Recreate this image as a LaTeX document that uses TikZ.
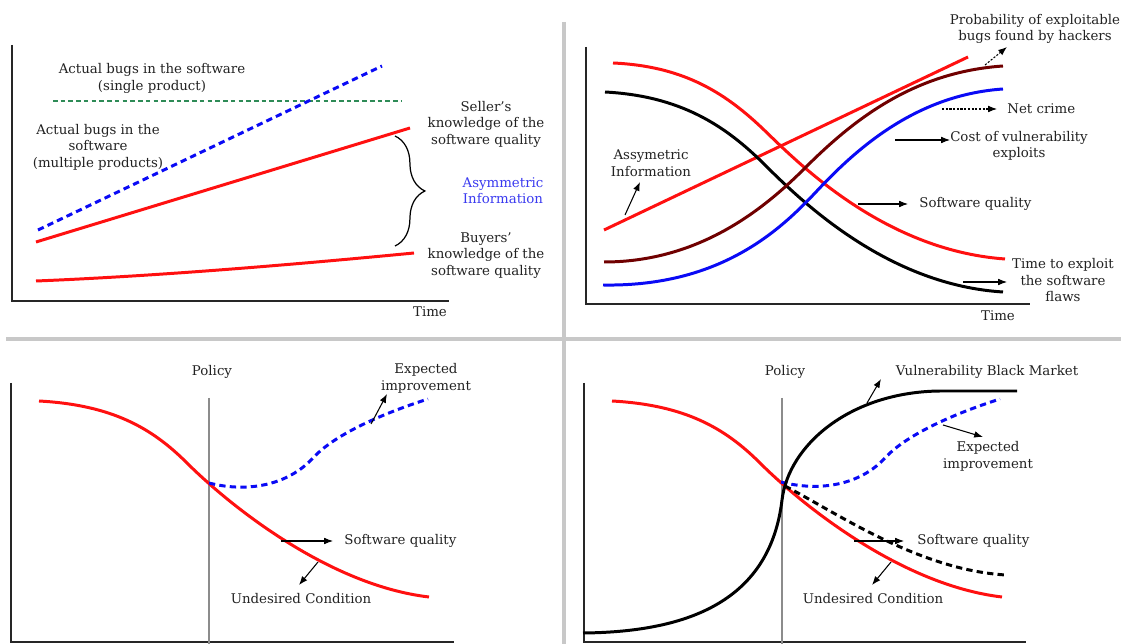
\documentclass[tikz,border=0pt]{standalone}
\usepackage{fontspec}
\setmainfont{DejaVu Serif}
\usetikzlibrary{arrows.meta,decorations.pathreplacing}
\definecolor{sepgray}{HTML}{C8C8C8}
\definecolor{polgray}{HTML}{8C8C8C}
\definecolor{txt}{HTML}{222222}
\definecolor{curvered}{HTML}{FF1010}
\definecolor{curveblue}{HTML}{0A0AF5}
\definecolor{maroon}{HTML}{700000}
\definecolor{dkgreen}{HTML}{2E8B57}
\definecolor{infoblue}{HTML}{3A3AF0}
\begin{document}
\begin{tikzpicture}[x=0.02cm,y=-0.02cm,
  lbl/.style={font=\fontsize{7.6}{9.4}\selectfont, align=center, inner sep=0pt, text=txt},
  axis/.style={line width=1.1pt, draw=black!85},
  divider/.style={line width=1.8pt, draw=sepgray},
  policyline/.style={line width=1.4pt, draw=polgray},
  curve/.style={line width=1.7pt},
  dashcurve/.style={line width=1.7pt, dash pattern=on 3.6pt off 2.4pt},
  arr/.style={line width=0.6pt, draw=black, -{Latex[length=5pt,width=3.8pt]}},
  dotarr/.style={line width=0.6pt, draw=black, dash pattern=on 1.2pt off 0.9pt, -{Latex[length=5pt,width=3.8pt]}}]
\useasboundingbox[fill=white] (0,0) rectangle (1128,644);

% ---------- panel dividers ----------
\coordinate (vtop) at (564,22);
\coordinate (vbot) at (564,644);
\coordinate (hl) at (6,339);
\coordinate (hr) at (1121,339);
\draw[divider] (vtop) -- (vbot);
\draw[divider] (hl) -- (hr);

% ================= panel 1: bugs and knowledge =================
\draw[axis] (12,45) -- (12,301) -- (449,301);
\node[lbl] (time1) at (430,312) {Time};

\draw[dkgreen, line width=1.5pt, dash pattern=on 2.6pt off 1.8pt] (53,101) -- (401,101);
\draw[curveblue, dashcurve] (38,230) -- (382,66);
\draw[curvered, curve] (36,242) -- (410,128);
\draw[curvered, curve] (36,281) .. controls (160,276) and (300,264) .. (414,253);
\draw[line width=0.7pt, decorate, decoration={brace, amplitude=17pt}] (395,136) -- (395,246);

\node[lbl] (single) at (152,78.5) {Actual bugs in the software\\(single product)};
\node[lbl] (multi) at (98,147) {Actual bugs in the\\software\\(multiple products)};
\node[lbl] (seller) at (486,124) {Seller's\\knowledge of the\\software quality};
\node[lbl, text=infoblue] (asym1) at (503,190.5) {Asymmetric\\Information};
\node[lbl] (buyers) at (486,255.5) {Buyers'\\knowledge of the\\software quality};

% ================= panel 2: crime and exploits =================
\draw[axis] (586,47) -- (586,304) -- (1030,304);
\node[lbl] (time2) at (998,316) {Time};

% asymmetric information (straight)
\draw[curvered, curve] (604,230) -- (968,57);
% time to exploit the software flaws
\draw[black, curve] (605,92) .. controls (680,96) and (725,125) .. (765,165)
                              .. controls (805,205) and (890,285) .. (1003,292);
% software quality
\draw[curvered, curve] (613,63) .. controls (680,66) and (722,90) .. (762,128)
                                .. controls (792,156.5) and (880,250) .. (1005,259);
% probability of exploitable bugs found by hackers
\draw[maroon, curve] (604,262) .. controls (700,262) and (765,208) .. (805,168)
                               .. controls (855,118) and (915,72) .. (1003,66);
% cost of vulnerability exploits
\draw[curveblue, curve] (603,285) .. controls (720,287) and (780,230) .. (815,193)
                                  .. controls (855,150) and (915,95) .. (1003,89);

\node[lbl] (prob) at (1035,29) {Probability of exploitable\\bugs found by hackers};
\node[lbl, anchor=west] (netcrime) at (1007,109) {Net crime};
\node[lbl] (cost) at (1019,146) {Cost of vulnerability\\exploits};
\node[lbl, anchor=west] (swq2) at (919,204) {Software quality};
\node[lbl] (tte) at (1063,280.5) {Time to exploit\\the software\\flaws};
\node[lbl] (asym2) at (651,163) {Assymetric\\Information};

\coordinate (pa) at (985,65);  \coordinate (pb) at (1007,47);
\coordinate (na) at (942,109); \coordinate (nb) at (997,109);
\coordinate (ca) at (895,140); \coordinate (cb) at (950,140);
\coordinate (sa) at (858,204); \coordinate (sb) at (908,204);
\coordinate (ta) at (963,282); \coordinate (tb) at (1007,282);
\coordinate (aa) at (625,215); \coordinate (ab) at (640,182);
\draw[dotarr] (pa) -- (pb);
\draw[dotarr] (na) -- (nb);
\draw[arr] (ca) -- (cb);
\draw[arr] (sa) -- (sb);
\draw[arr] (ta) -- (tb);
\draw[arr] (aa) -- (ab);

% ================= panel 3: policy, expected outcome =================
\draw[axis] (11,383) -- (11,642) -- (454,642);
\draw[policyline] (209,398) -- (209,644);
\node[lbl] (policy3) at (212,372) {Policy};

\draw[curvered, curve] (39,401) .. controls (112,405) and (152,428) .. (187,463)
                               .. controls (227,503) and (327,585) .. (429,597);
\draw[curveblue, dashcurve] (209,483) .. controls (248,493) and (288,485) .. (313,458)
                                      .. controls (333,436) and (378,415) .. (428,399);

\node[lbl] (exp3) at (426,378.5) {Expected\\improvement};
\node[lbl, anchor=west] (swq3) at (344,541) {Software quality};
\node[lbl] (und3) at (301,599) {Undesired Condition};

\coordinate (e3a) at (371,424); \coordinate (e3b) at (387,394);
\coordinate (s3a) at (281,541); \coordinate (s3b) at (333,541);
\coordinate (u3a) at (318,562); \coordinate (u3b) at (299,585);
\draw[arr] (e3a) -- (e3b);
\draw[arr] (s3a) -- (s3b);
\draw[arr] (u3a) -- (u3b);

% ================= panel 4: policy and black market =================
\draw[axis] (584,383) -- (584,642) -- (1026,642);
\draw[policyline] (782,398) -- (782,644);
\node[lbl] (policy4) at (785,372) {Policy};

\draw[curvered, curve] (612,401) .. controls (685,405) and (725,428) .. (760,463)
                                .. controls (800,503) and (900,585) .. (1002,597);
\draw[black, dashcurve] (785,486) .. controls (840,515) and (920,570) .. (1006,575);
\draw[curveblue, dashcurve] (781,482) .. controls (820,492) and (860,485) .. (885,458)
                                      .. controls (905,436) and (950,415) .. (1000,399);
% vulnerability black market
\draw[black, curve] (583,633) .. controls (690,632) and (770,600) .. (782,500)
                              .. controls (788.6,445) and (850,392) .. (940,391) -- (1017,391);

\node[lbl] (vbm) at (987,372) {Vulnerability Black Market};
\node[lbl] (exp4) at (988,456.5) {Expected\\improvement};
\node[lbl, anchor=west] (swq4) at (917,541) {Software quality};
\node[lbl] (und4) at (873,599) {Undesired Condition};

\coordinate (v4a) at (867,403); \coordinate (v4b) at (881,379);
\coordinate (e4a) at (943,425); \coordinate (e4b) at (983,437);
\coordinate (s4a) at (854,541); \coordinate (s4b) at (904,541);
\coordinate (u4a) at (891,562); \coordinate (u4b) at (872,585);
\draw[arr] (v4a) -- (v4b);
\draw[arr] (e4a) -- (e4b);
\draw[arr] (s4a) -- (s4b);
\draw[arr] (u4a) -- (u4b);
\end{tikzpicture}
\end{document}
